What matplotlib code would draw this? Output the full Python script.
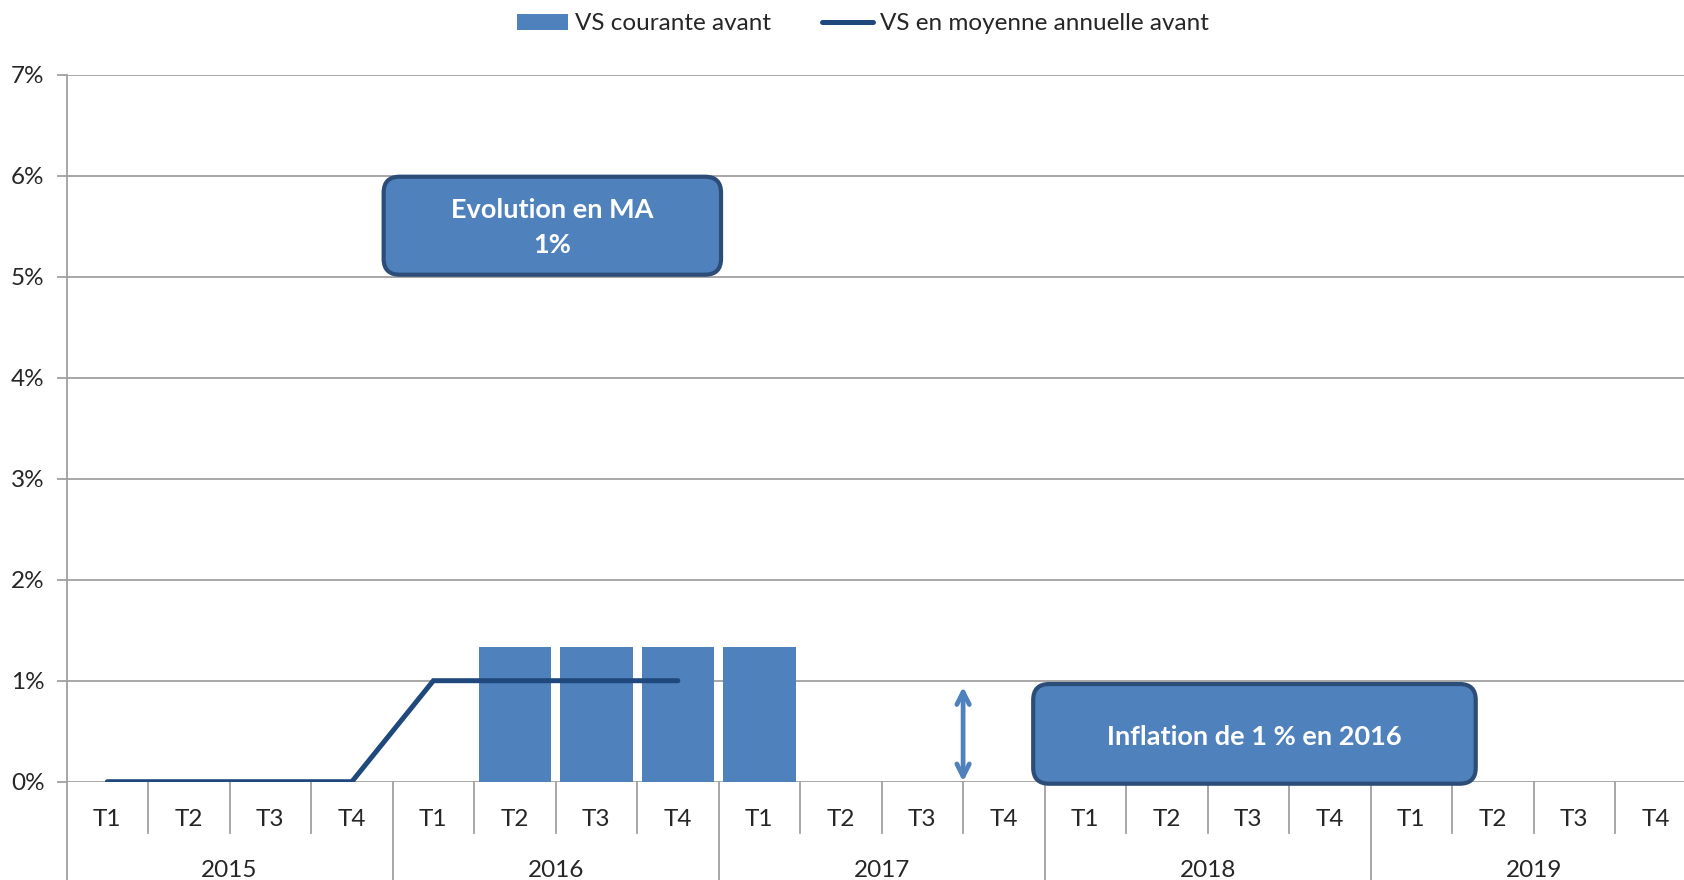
import numpy as np
import matplotlib
matplotlib.use("Agg")
import matplotlib.pyplot as plt
from matplotlib.patches import FancyBboxPatch
from matplotlib.lines import Line2D
import matplotlib.transforms as mtrans

plt.rcParams['font.family'] = ['Lato', 'DejaVu Sans']

years = ['2015', '2016', '2017', '2018', '2019']
quarters = ['T1', 'T2', 'T3', 'T4']
vs_courante = [np.nan, np.nan, np.nan, np.nan, np.nan, 1.33, 1.33, 1.33,
               1.33, np.nan, np.nan, np.nan, np.nan, np.nan, np.nan, np.nan,
               np.nan, np.nan, np.nan, np.nan]
vs_moyenne = [0, 0, 0, 0, 1, 1, 1, 1, np.nan, np.nan, np.nan, np.nan,
              np.nan, np.nan, np.nan, np.nan, np.nan, np.nan, np.nan, np.nan]
y_ticks = [0, 1, 2, 3, 4, 5, 6, 7]
box1_text = "Evolution en MA\n1%"
box2_text = "Inflation de 1 % en 2016"

BAR = '#4F81BD'
LINE = '#1F497D'
EDGE = '#2C4D78'
GRID = '#A0A0A0'
TXT = '#262626'
FS = 17.5

fig = plt.figure(figsize=(16.84, 8.80), dpi=100)
left_px = 66.6
cat_px = 81.5
n = len(years) * len(quarters)
ax = fig.add_axes([left_px / 1684, 1 - 781.7 / 880, n * cat_px / 1684,
                   (781.7 - 74.7) / 880])

x = np.arange(n)
cat_labels = [q for _ in years for q in quarters]

bars = ax.bar(x, vs_courante, width=0.89, color=BAR, zorder=3, label='VS courante avant')
line, = ax.plot(x, vs_moyenne, color=LINE, lw=3.6, zorder=4, solid_capstyle='round',
                solid_joinstyle='miter', label='VS en moyenne annuelle avant')

ax.set_xlim(-0.5, n - 0.5)
ax.set_ylim(0, 7)
ax.set_yticks(y_ticks)
ax.set_yticklabels([f"{v}%" for v in y_ticks])
ax.yaxis.grid(True, color=GRID, lw=1.3, zorder=0)
ax.set_axisbelow(True)
for s in ['top', 'right', 'bottom']:
    ax.spines[s].set_visible(False)
ax.spines['left'].set_color(GRID)
ax.spines['left'].set_linewidth(1.3)
ax.tick_params(axis='y', length=7, width=1.3, color=GRID, pad=9,
               labelsize=FS, labelcolor=TXT)

# quarter labels
ax.set_xticks(x)
ax.set_xticklabels(cat_labels)
ax.tick_params(axis='x', length=0, pad=19.5, labelsize=FS, labelcolor=TXT)

trans = mtrans.blended_transform_factory(ax.transData, ax.transAxes)
ax_h_px = 781.7 - 74.7
q_low = -(832.7 - 781.7) / ax_h_px
y_low = -(880 - 781.7) / ax_h_px
for b in np.arange(0.5, n - 0.5, 1.0):
    is_year = abs((b + 0.5) % len(quarters)) < 1e-9
    ax.add_line(Line2D([b, b], [0, y_low if is_year else q_low], transform=trans,
                       color=GRID, lw=1.3, clip_on=False, zorder=1))
ax.add_line(Line2D([-0.5, -0.5], [0, y_low], transform=trans, color=GRID,
                   lw=1.3, clip_on=False, zorder=1))
year_y = -(870.5 - 781.7) / ax_h_px
for i, yr in enumerate(years):
    ax.text(i * len(quarters) + 1.5, year_y, yr, transform=trans, ha='center',
            va='center', fontsize=FS, color=TXT)

# legend
leg = ax.legend(handles=[bars, line], loc='center',
                bbox_to_anchor=(863 / 1684, 1 - 24 / 880),
                bbox_transform=fig.transFigure, ncol=2, frameon=False,
                fontsize=FS, handlelength=2.1, handleheight=0.62,
                handletextpad=0.3, columnspacing=2.1, labelcolor=TXT)

# annotation boxes
px_y = 101.0
aspect = cat_px / px_y
r = 16 / cat_px
bx1 = (3.39, 7.53, 5.02, 5.99)
b1 = FancyBboxPatch((bx1[0], bx1[2]), bx1[1] - bx1[0], bx1[3] - bx1[2],
                    boxstyle=f"round,pad=0,rounding_size={r}", mutation_aspect=aspect,
                    facecolor=BAR, edgecolor=EDGE, lw=3.0, zorder=5, clip_on=False)
ax.add_patch(b1)
ax.text((bx1[0] + bx1[1]) / 2, (bx1[2] + bx1[3]) / 2 - 0.02, box1_text, ha='center',
        va='center', color='white', fontsize=19.5, fontweight='bold',
        linespacing=1.55, zorder=6)

bx2 = (11.36, 16.79, -0.02, 0.967)
b2 = FancyBboxPatch((bx2[0], bx2[2]), bx2[1] - bx2[0], bx2[3] - bx2[2],
                    boxstyle=f"round,pad=0,rounding_size={r}", mutation_aspect=aspect,
                    facecolor=BAR, edgecolor=EDGE, lw=3.0, zorder=5, clip_on=False)
ax.add_patch(b2)
ax.text((bx2[0] + bx2[1]) / 2, 0.44, box2_text, ha='center', va='center',
        color='white', fontsize=19.5, fontweight='bold', zorder=6)

# double arrow
ax.annotate('', xy=(10.5, 0.0), xytext=(10.5, 0.94),
            arrowprops=dict(arrowstyle='<->,head_length=0.9,head_width=0.45',
                            color=BAR, lw=3.4, shrinkA=0, shrinkB=0),
            zorder=6)

fig.savefig('out.png', dpi=100)
